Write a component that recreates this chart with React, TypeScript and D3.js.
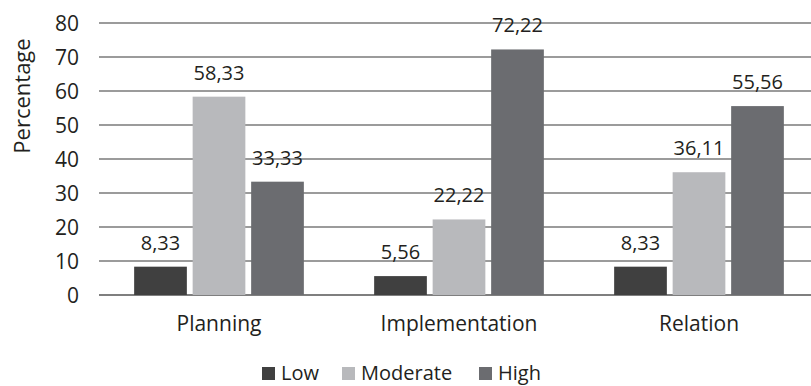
import React from 'react';
import * as d3 from 'd3';

const categories = ['Planning', 'Implementation', 'Relation'];
const seriesNames = ['Low', 'Moderate', 'High'];
const lowValues = [8.33, 5.56, 8.33];
const moderateValues = [58.33, 22.22, 36.11];
const highValues = [33.33, 72.22, 55.56];
const yTicks = [0, 10, 20, 30, 40, 50, 60, 70, 80];
const colors = ['#404040', '#b8b9bc', '#6b6c70'];

const W = 811;
const H = 386;
const FONT = '"Open Sans", "DejaVu Sans", sans-serif';

const App: React.FC = () => {
  const series = [lowValues, moderateValues, highValues];

  // plot area runs a little past the right edge, like the original export
  const x = d3.scaleBand<string>().domain(categories).range([99, 819]);
  const y = d3.scaleLinear().domain([0, 80]).range([295, 23]);
  const barW = 52.7;
  const step = 58.5;
  const fmt = (v: number) => v.toFixed(2).replace('.', ',');

  const legendX = [262, 342, 479];

  return (
    <svg width={W} height={H} style={{ position: 'absolute', left: 0, top: 0, background: '#fff' }} fontFamily={FONT}>
      {/* grid */}
      {yTicks.map(t => (
        <g key={t}>
          <line x1={99} x2={W} y1={y(t)} y2={y(t)} stroke={t === 0 ? '#555' : '#7a7a7a'} strokeWidth={1.3} />
          <text x={79} y={y(t)} dy="0.36em" textAnchor="end" fontSize={21} fill="#231f20">{t}</text>
        </g>
      ))}

      <text transform="translate(22,96) rotate(-90)" textAnchor="middle" dy="0.36em" fontSize={22} fill="#231f20">Percentage</text>

      {/* bars */}
      {categories.map((c, ci) => {
        const cx = (x(c) ?? 0) + x.bandwidth() / 2;
        return (
          <g key={c}>
            {series.map((vals, si) => {
              const bx = cx + (si - 1) * step - barW / 2;
              const v = vals[ci];
              return (
                <g key={si}>
                  <rect x={bx} y={y(v)} width={barW} height={y(0) - y(v)} fill={colors[si]} />
                  <text x={bx + barW / 2} y={y(v) - 17} textAnchor="middle" fontSize={20} fill="#231f20">{fmt(v)}</text>
                </g>
              );
            })}
            <text x={cx} y={331} textAnchor="middle" fontSize={21} fill="#231f20">{c}</text>
          </g>
        );
      })}

      {/* legend */}
      {seriesNames.map((s, i) => (
        <g key={s}>
          <rect x={legendX[i]} y={367} width={13} height={13} fill={colors[i]} />
          <text x={legendX[i] + 19} y={380} fontSize={20} fill="#231f20">{s}</text>
        </g>
      ))}
    </svg>
  );
};

export default App;
